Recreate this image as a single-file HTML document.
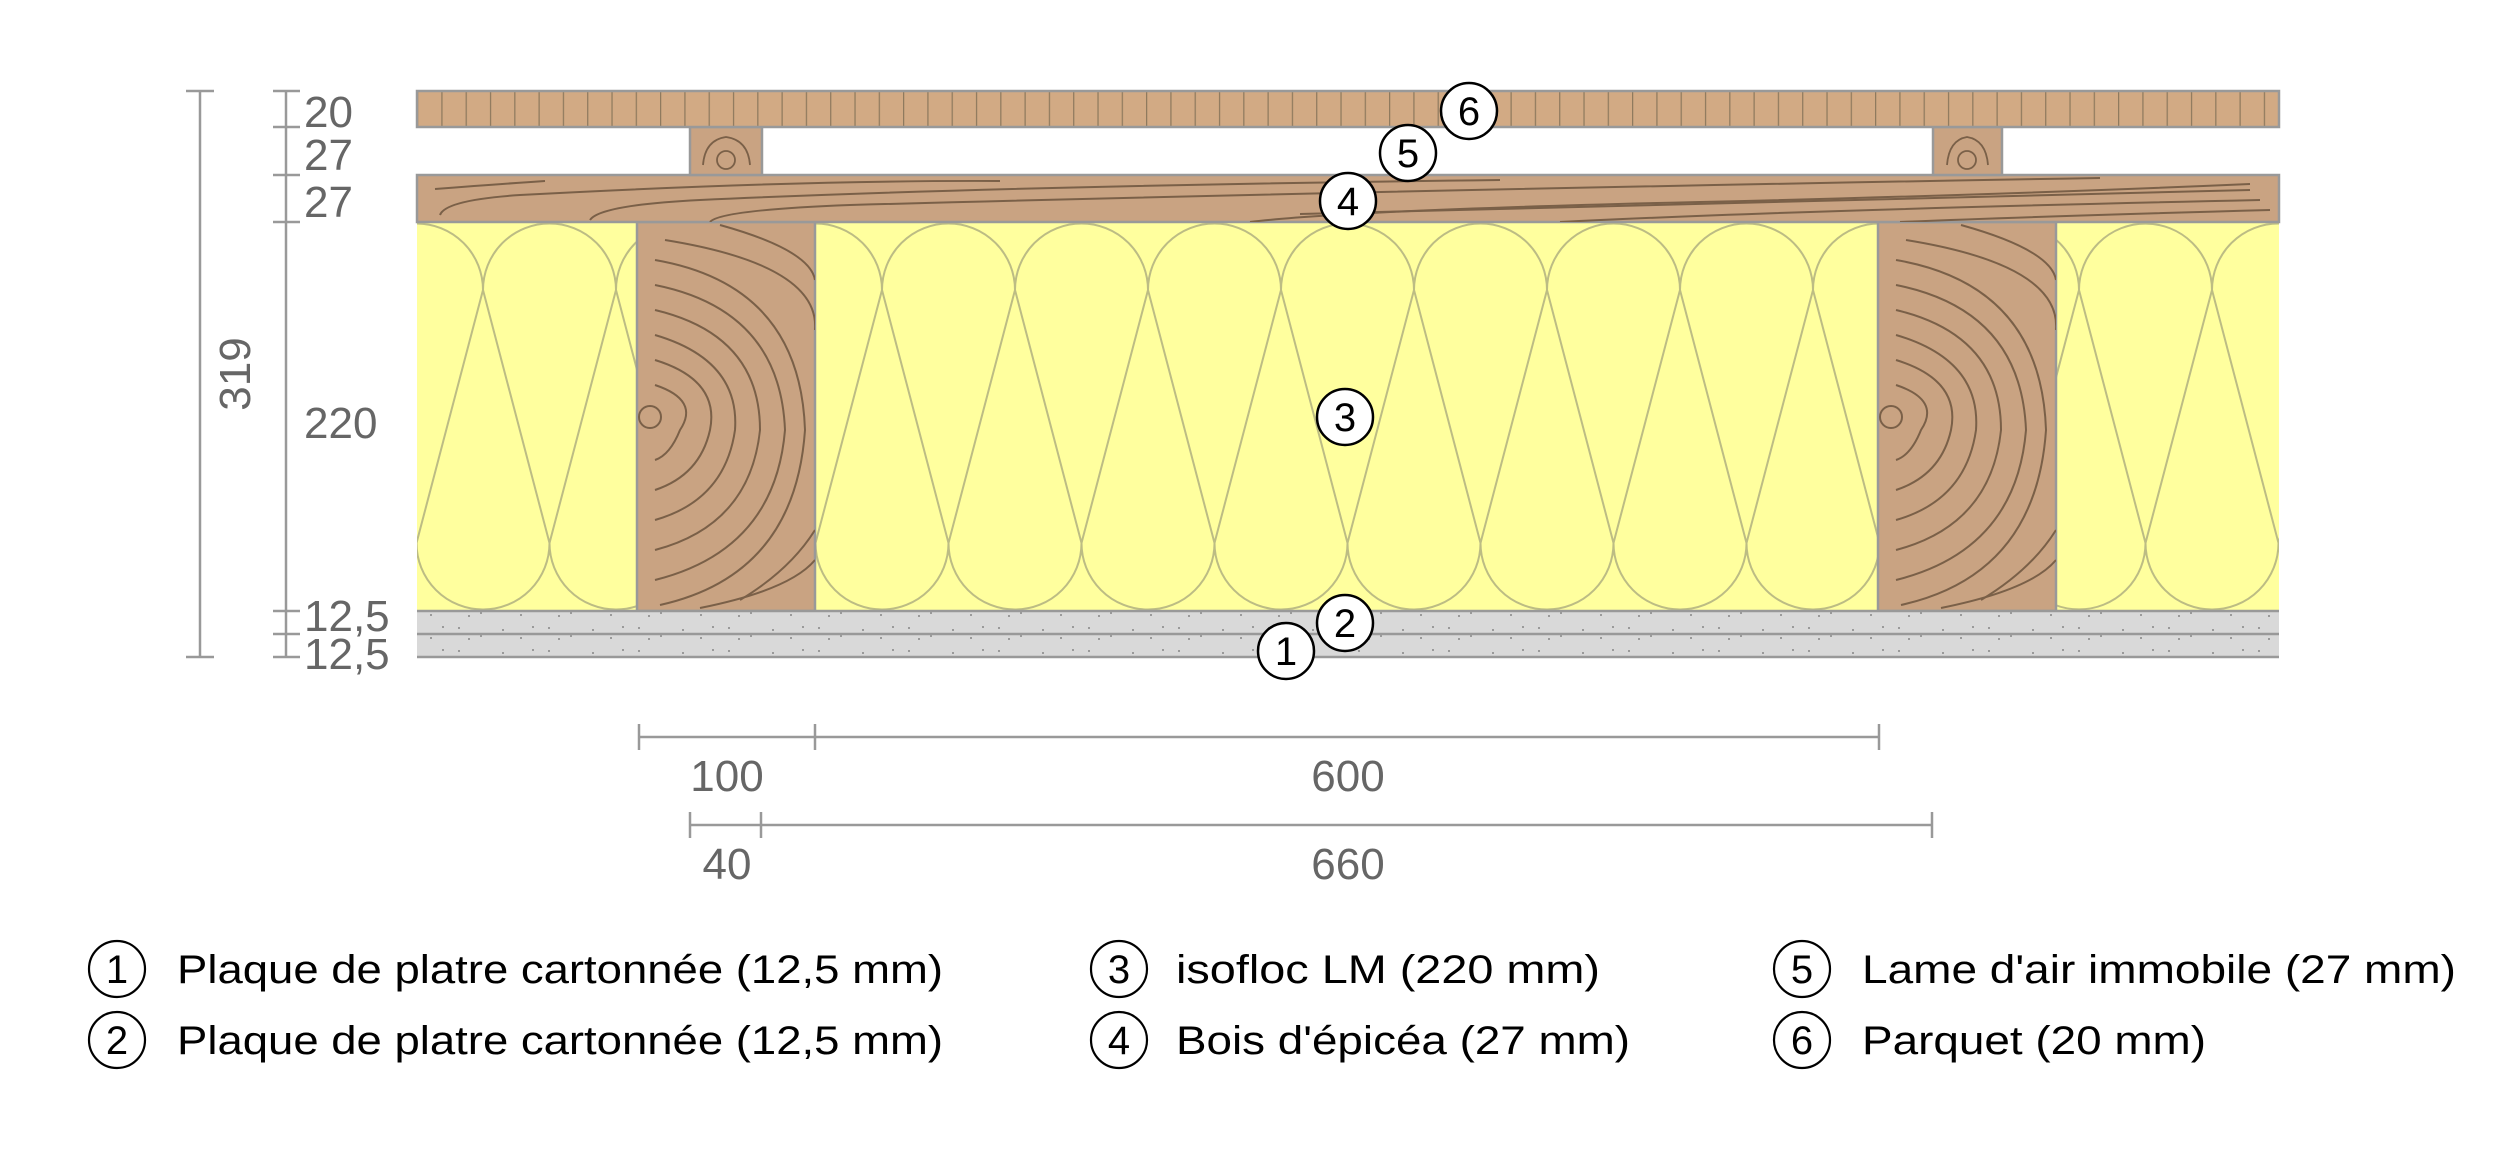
<!DOCTYPE html>
<html><head><meta charset="utf-8"><style>html,body{margin:0;padding:0;background:#fff}svg{display:block}</style></head>
<body>
<svg width="2516" height="1150" viewBox="0 0 2516 1150" xmlns="http://www.w3.org/2000/svg" font-family="Liberation Sans, sans-serif">
<defs>
<pattern id="ins" patternUnits="userSpaceOnUse" x="483" y="0" width="133" height="700">
<rect width="133" height="700" fill="#ffff9e"/>
<g fill="none" stroke="#bcbc84" stroke-width="2">
<path d="M0,290 A66.5,66.5 0 0 1 133,290"/>
<path d="M-66.5,543 A66.5,66.5 0 0 0 66.5,543"/>
<path d="M66.5,543 A66.5,66.5 0 0 0 199.5,543"/>
<path d="M0,290 L66.5,543 L133,290"/>
<path d="M0,290 L-66.5,543 M133,290 L199.5,543"/>
<path d="M0,290 L0,290"/>
</g>
<g fill="none" stroke="#bcbc84" stroke-width="2">
<path d="M66.5,543 L0,290 M66.5,543 L133,290"/>
</g>
</pattern>
<pattern id="ins2" patternUnits="userSpaceOnUse" x="483" y="0" width="133" height="700">
<rect width="133" height="700" fill="#ffff9e"/>
<g fill="none" stroke="#bcbc84" stroke-width="2">
<path d="M0,290 A66.5,66.5 0 0 1 133,290"/>
<path d="M0,543 A66.5,66.5 0 0 0 66.5,609.5 M66.5,609.5 A66.5,66.5 0 0 0 133,543"/>
<path d="M0,290 L-66.5,543 M0,290 L66.5,543 M133,290 L66.5,543 M133,290 L199.5,543"/>
</g>
</pattern>
<pattern id="parq" patternUnits="userSpaceOnUse" x="417" y="0" width="24.3" height="40">
<rect width="24.3" height="40" fill="#d2aa84"/>
<line x1="0.5" y1="0" x2="0.5" y2="40" stroke="#8f7a5e" stroke-width="1.5"/>
</pattern>
<pattern id="gyp" patternUnits="userSpaceOnUse" width="90" height="23">
<rect width="90" height="23" fill="#d9d9d9"/>
<g fill="#9a9a9a"><rect x="8" y="6" width="2" height="2"/><rect x="30" y="14" width="2" height="2"/><rect x="52" y="8" width="2" height="2"/><rect x="70" y="16" width="2" height="2"/><rect x="82" y="5" width="2" height="2"/><rect x="18" y="17" width="2" height="2"/></g>
</pattern>
<clipPath id="j1"><rect x="637" y="222" width="178" height="389"/></clipPath>
<clipPath id="j2"><rect x="1878" y="222" width="178" height="389"/></clipPath>
<clipPath id="pl"><rect x="417" y="175" width="1862" height="47"/></clipPath>
</defs>

<!-- insulation -->
<rect x="417" y="222" width="1862" height="389" fill="#ffff9e"/>
<g fill="none" stroke="#bcbc84" stroke-width="2" clip-path="url(#none)">
<clipPath id="insc"><rect x="417" y="222" width="1862" height="389"/></clipPath>
</g>
<g id="lobes" fill="none" stroke="#bcbc84" stroke-width="2" clip-path="url(#insc)">
<path d="M350,290 L283.5,543 M350,290 L416.5,543 M483,290 L416.5,543 M483,290 L549.5,543 M616,290 L549.5,543 M616,290 L682.5,543 M749,290 L682.5,543 M749,290 L815.5,543 M882,290 L815.5,543 M882,290 L948.5,543 M1015,290 L948.5,543 M1015,290 L1081.5,543 M1148,290 L1081.5,543 M1148,290 L1214.5,543 M1281,290 L1214.5,543 M1281,290 L1347.5,543 M1414,290 L1347.5,543 M1414,290 L1480.5,543 M1547,290 L1480.5,543 M1547,290 L1613.5,543 M1680,290 L1613.5,543 M1680,290 L1746.5,543 M1813,290 L1746.5,543 M1813,290 L1879.5,543 M1946,290 L1879.5,543 M1946,290 L2012.5,543 M2079,290 L2012.5,543 M2079,290 L2145.5,543 M2212,290 L2145.5,543 M2212,290 L2278.5,543 M2345,290 L2278.5,543"/>
<path d="M350,290 A66.5,66.5 0 0 1 483,290 M483,290 A66.5,66.5 0 0 1 616,290 M616,290 A66.5,66.5 0 0 1 749,290 M749,290 A66.5,66.5 0 0 1 882,290 M882,290 A66.5,66.5 0 0 1 1015,290 M1015,290 A66.5,66.5 0 0 1 1148,290 M1148,290 A66.5,66.5 0 0 1 1281,290 M1281,290 A66.5,66.5 0 0 1 1414,290 M1414,290 A66.5,66.5 0 0 1 1547,290 M1547,290 A66.5,66.5 0 0 1 1680,290 M1680,290 A66.5,66.5 0 0 1 1813,290 M1813,290 A66.5,66.5 0 0 1 1946,290 M1946,290 A66.5,66.5 0 0 1 2079,290 M2079,290 A66.5,66.5 0 0 1 2212,290 M2212,290 A66.5,66.5 0 0 1 2345,290"/>
<path d="M283.5,543 A66.5,66.5 0 0 0 416.5,543 M416.5,543 A66.5,66.5 0 0 0 549.5,543 M549.5,543 A66.5,66.5 0 0 0 682.5,543 M682.5,543 A66.5,66.5 0 0 0 815.5,543 M815.5,543 A66.5,66.5 0 0 0 948.5,543 M948.5,543 A66.5,66.5 0 0 0 1081.5,543 M1081.5,543 A66.5,66.5 0 0 0 1214.5,543 M1214.5,543 A66.5,66.5 0 0 0 1347.5,543 M1347.5,543 A66.5,66.5 0 0 0 1480.5,543 M1480.5,543 A66.5,66.5 0 0 0 1613.5,543 M1613.5,543 A66.5,66.5 0 0 0 1746.5,543 M1746.5,543 A66.5,66.5 0 0 0 1879.5,543 M1879.5,543 A66.5,66.5 0 0 0 2012.5,543 M2012.5,543 A66.5,66.5 0 0 0 2145.5,543 M2145.5,543 A66.5,66.5 0 0 0 2278.5,543"/>
</g>

<!-- joists -->
<g stroke="#999" stroke-width="2.5" fill="#c9a382">
<rect x="637" y="222" width="178" height="389"/>
<rect x="1878" y="222" width="178" height="389"/>
</g>
<g fill="none" stroke="#7a6048" stroke-width="2" clip-path="url(#j1)">
<circle cx="650" cy="417" r="11"/>
<path d="M655,385 Q700,400 680,430 Q670,455 655,460"/>
<path d="M655,360 Q720,380 710,430 Q700,475 655,490"/>
<path d="M655,335 Q740,360 735,430 Q725,500 655,520"/>
<path d="M655,310 Q760,335 760,430 Q750,525 655,550"/>
<path d="M655,285 Q780,310 785,430 Q775,550 655,580"/>
<path d="M655,260 Q800,285 805,430 Q795,575 660,605"/>
<path d="M665,240 Q820,265 815,330"/>
<path d="M720,225 Q810,250 815,280"/>
<path d="M740,600 Q790,570 815,530"/>
<path d="M700,608 Q790,590 815,560"/>
</g>
<g fill="none" stroke="#7a6048" stroke-width="2" clip-path="url(#j2)">
<circle cx="1891" cy="417" r="11"/>
<path d="M1896,385 Q1941,400 1921,430 Q1911,455 1896,460"/>
<path d="M1896,360 Q1961,380 1951,430 Q1941,475 1896,490"/>
<path d="M1896,335 Q1981,360 1976,430 Q1966,500 1896,520"/>
<path d="M1896,310 Q2001,335 2001,430 Q1991,525 1896,550"/>
<path d="M1896,285 Q2021,310 2026,430 Q2016,550 1896,580"/>
<path d="M1896,260 Q2041,285 2046,430 Q2036,575 1901,605"/>
<path d="M1906,240 Q2061,265 2056,330"/>
<path d="M1961,225 Q2051,250 2056,280"/>
<path d="M1981,600 Q2031,570 2056,530"/>
<path d="M1941,608 Q2031,590 2056,560"/>
</g>

<!-- gypsum -->
<rect x="417" y="611" width="1862" height="23" fill="url(#gyp)"/>
<rect x="417" y="634" width="1862" height="23" fill="url(#gyp)"/>
<g stroke="#999" stroke-width="2.5">
<line x1="417" y1="611" x2="2279" y2="611"/>
<line x1="417" y1="634" x2="2279" y2="634"/>
<line x1="417" y1="657" x2="2279" y2="657"/>
</g>

<!-- plank -->
<rect x="417" y="175" width="1862" height="47" fill="#c9a382" stroke="#999" stroke-width="2.5"/>
<g fill="none" stroke="#7a6048" stroke-width="2" clip-path="url(#pl)">
<path d="M435,189 Q500,184 545,181"/>
<path d="M440,215 Q445,200 520,195 Q800,180 1000,181"/>
<path d="M590,220 Q600,205 700,200 Q1000,186 1500,180"/>
<path d="M710,222 Q720,210 850,205 Q1400,190 2100,178"/>
<path d="M1250,222 Q1350,210 1700,202 Q2000,195 2250,184"/>
<path d="M1300,214 Q1700,203 2250,190"/>
<path d="M1560,222 Q1800,210 2260,200"/>
<path d="M1900,222 Q2050,216 2270,210"/>
</g>

<!-- battens -->
<g fill="#c9a382" stroke="#999" stroke-width="2.5">
<rect x="690" y="127" width="72" height="48"/>
<rect x="1933" y="127" width="69" height="48"/>
</g>
<g fill="none" stroke="#7a6048" stroke-width="1.8">
<circle cx="726" cy="160" r="9"/><path d="M703,165 Q705,140 726,137 Q748,140 750,165"/>
<circle cx="1967" cy="160" r="9"/><path d="M1947,165 Q1949,140 1967,137 Q1986,140 1988,165"/>
</g>

<!-- parquet -->
<rect x="417" y="91" width="1862" height="36" fill="url(#parq)" stroke="#999" stroke-width="2.5"/>

<!-- vertical dims -->
<g stroke="#999" stroke-width="2.5">
<line x1="200" y1="91" x2="200" y2="657"/>
<line x1="186" y1="91" x2="214" y2="91"/><line x1="186" y1="657" x2="214" y2="657"/>
<line x1="286" y1="91" x2="286" y2="657"/>
<line x1="273" y1="91" x2="300" y2="91"/><line x1="273" y1="127" x2="300" y2="127"/>
<line x1="273" y1="175" x2="300" y2="175"/><line x1="273" y1="222" x2="300" y2="222"/>
<line x1="273" y1="611" x2="300" y2="611"/><line x1="273" y1="634" x2="300" y2="634"/>
<line x1="273" y1="657" x2="300" y2="657"/>
</g>
<g fill="#666" font-size="44">
<text x="304" y="127">20</text>
<text x="304" y="170">27</text>
<text x="304" y="217">27</text>
<text x="304" y="438">220</text>
<text x="304" y="631">12,5</text>
<text x="304" y="669">12,5</text>
<text transform="translate(250,374) rotate(-90)" text-anchor="middle">319</text>
</g>

<!-- horizontal dims -->
<g stroke="#999" stroke-width="2.5">
<line x1="639" y1="737" x2="1879" y2="737"/>
<line x1="639" y1="724" x2="639" y2="750"/><line x1="815" y1="724" x2="815" y2="750"/><line x1="1879" y1="724" x2="1879" y2="750"/>
<line x1="690" y1="825" x2="1932" y2="825"/>
<line x1="690" y1="812" x2="690" y2="838"/><line x1="761" y1="812" x2="761" y2="838"/><line x1="1932" y1="812" x2="1932" y2="838"/>
</g>
<g fill="#666" font-size="44" text-anchor="middle">
<text x="727" y="791">100</text>
<text x="1348" y="791">600</text>
<text x="727" y="879">40</text>
<text x="1348" y="879">660</text>
</g>

<!-- markers in diagram -->
<g fill="#fff" stroke="#000" stroke-width="2.5">
<circle cx="1469" cy="111" r="28"/>
<circle cx="1408" cy="153" r="28"/>
<circle cx="1348" cy="201" r="28"/>
<circle cx="1345" cy="417" r="28"/>
<circle cx="1345" cy="623" r="28"/>
<circle cx="1286" cy="651" r="28"/>
</g>
<g fill="#000" font-size="40" text-anchor="middle">
<text x="1469" y="125">6</text>
<text x="1408" y="167">5</text>
<text x="1348" y="215">4</text>
<text x="1345" y="431">3</text>
<text x="1345" y="637">2</text>
<text x="1286" y="665">1</text>
</g>

<!-- legend -->
<g fill="#fff" stroke="#000" stroke-width="2.2">
<circle cx="117" cy="969" r="28"/><circle cx="117" cy="1040" r="28"/>
<circle cx="1119" cy="969" r="28"/><circle cx="1119" cy="1040" r="28"/>
<circle cx="1802" cy="969" r="28"/><circle cx="1802" cy="1040" r="28"/>
</g>
<g fill="#000" font-size="40" text-anchor="middle">
<text x="117" y="983">1</text><text x="117" y="1054">2</text>
<text x="1119" y="983">3</text><text x="1119" y="1054">4</text>
<text x="1802" y="983">5</text><text x="1802" y="1054">6</text>
</g>
<g fill="#000" font-size="40">
<text x="177" y="983" textLength="766" lengthAdjust="spacingAndGlyphs">Plaque de platre cartonnée (12,5 mm)</text>
<text x="177" y="1054" textLength="766" lengthAdjust="spacingAndGlyphs">Plaque de platre cartonnée (12,5 mm)</text>
<text x="1176" y="983" textLength="424" lengthAdjust="spacingAndGlyphs">isofloc LM (220 mm)</text>
<text x="1176" y="1054" textLength="454" lengthAdjust="spacingAndGlyphs">Bois d'épicéa (27 mm)</text>
<text x="1862" y="983" textLength="594" lengthAdjust="spacingAndGlyphs">Lame d'air immobile (27 mm)</text>
<text x="1862" y="1054" textLength="344" lengthAdjust="spacingAndGlyphs">Parquet (20 mm)</text>
</g>
</svg>
</body></html>
